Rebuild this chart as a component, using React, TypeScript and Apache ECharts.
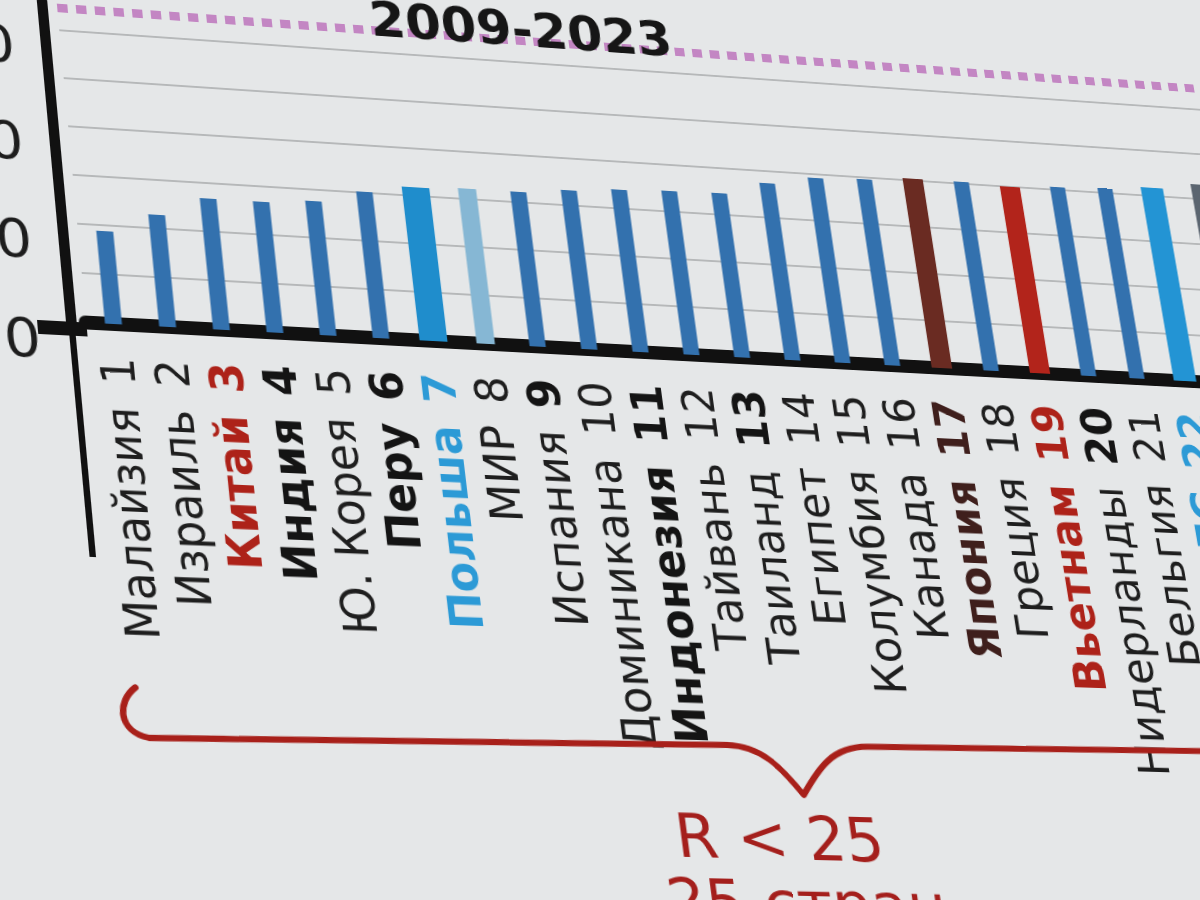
import React, { useEffect, useRef } from 'react';
import * as echarts from 'echarts';

// ---------------- data ----------------
const countries = [
  'Малайзия', 'Израиль', 'Китай', 'Индия', 'Ю. Корея', 'Перу', 'Польша', 'МИР',
  'Испания', 'Доминикана', 'Индонезия', 'Тайвань', 'Таиланд', 'Египет', 'Колумбия',
  'Канада', 'Япония', 'Греция', 'Вьетнам', 'Нидерланды', 'Бельгия', 'ЕС', '',
];
const ranks = [
  '1', '2', '3', '4', '5', '6', '7', '8', '9', '10', '11', '12', '13', '14', '15',
  '16', '17', '18', '19', '20', '21', '22', '',
];
const values = [
  9.4, 11.4, 13.4, 13.4, 13.8, 15.1, 15.9, 16.1, 16.1, 16.6, 17.0, 17.2, 17.3,
  18.7, 19.6, 19.8, 20.2, 20.2, 20.0, 20.3, 20.5, 20.9, 21.6,
];
const yTickLabels = ['0', '10', '20', '30'];
const thresholdValue = 32.4;
const periodLabel = '2009-2023';
const groupLabel = 'R < 25';
const groupCountLabel = '25 стран';
const groupSize = 25;

// highlight groups (by name)
const redNames = ['Китай', 'Вьетнам'];
const blueNames = ['Польша', 'ЕС'];
const brownNames = ['Япония'];
const boldNames = ['Индия', 'Перу', 'Индонезия'];
const boldRankOnly = ['Испания', 'Таиланд', 'Нидерланды'];

// ---------------- layout / style ----------------
const FONT = '"DejaVu Sans", Verdana, sans-serif';
const GL = 150;
const GT = 130;
const GH = 330;
const CAT_W = 51;
const YMAX = 33;
const VB = GT + GH;
const S = GH / YMAX;
const DIV_W = 1500;
const DIV_H = 1080;

const barStyles: Record<string, { color: string; width: number }> = {
  base: { color: '#3371ae', width: 16 },
  poland: { color: '#1f8dcc', width: 27 },
  world: { color: '#86b7d4', width: 18 },
  japan: { color: '#6a2b22', width: 21 },
  vietnam: { color: '#b2241b', width: 21 },
  eu: { color: '#2394d4', width: 24 },
  other: { color: '#5b6570', width: 16 },
};
function barKind(name: string): string {
  if (name === 'Польша') return 'poland';
  if (name === 'МИР') return 'world';
  if (name === 'Япония') return 'japan';
  if (name === 'Вьетнам') return 'vietnam';
  if (name === 'ЕС') return 'eu';
  if (name === '') return 'other';
  return 'base';
}

// ---------------- perspective (photo) ----------------
function solveHomography(src: number[][], dst: number[][]): number[] {
  const A: number[][] = [];
  const b: number[] = [];
  for (let i = 0; i < 4; i++) {
    const [x, y] = src[i];
    const [X, Y] = dst[i];
    A.push([x, y, 1, 0, 0, 0, -x * X, -y * X]);
    b.push(X);
    A.push([0, 0, 0, x, y, 1, -x * Y, -y * Y]);
    b.push(Y);
  }
  const n = 8;
  for (let c = 0; c < n; c++) {
    let p = c;
    for (let r = c + 1; r < n; r++) if (Math.abs(A[r][c]) > Math.abs(A[p][c])) p = r;
    [A[c], A[p]] = [A[p], A[c]];
    [b[c], b[p]] = [b[p], b[c]];
    for (let r = 0; r < n; r++) {
      if (r === c) continue;
      const f = A[r][c] / A[c][c];
      for (let k = c; k < n; k++) A[r][k] -= f * A[c][k];
      b[r] -= f * b[c];
    }
  }
  return b.map((v, i) => v / A[i][i]);
}
const srcPts = [
  [GL + 0.5 * CAT_W, VB],
  [GL + 0.5 * CAT_W, VB - 20 * S],
  [GL + 21.5 * CAT_W, VB],
  [GL + 21.5 * CAT_W, VB - 20 * S],
];
const dstPts = [
  [113.5, 324],
  [95, 128],
  [1185, 381],
  [1153, 196],
];
const h = solveHomography(srcPts, dstPts);
const M = [
  [h[0], h[1], h[2]],
  [h[3], h[4], h[5]],
  [h[6], h[7], 1],
];
function inv3(m: number[][]): number[][] {
  const [a, b, c] = m[0];
  const [d, e, f] = m[1];
  const [g, hh, i] = m[2];
  const A = e * i - f * hh, B = -(d * i - f * g), C = d * hh - e * g;
  const det = a * A + b * B + c * C;
  return [
    [A / det, -(b * i - c * hh) / det, (b * f - c * e) / det],
    [B / det, (a * i - c * g) / det, -(a * f - c * d) / det],
    [C / det, -(a * hh - b * g) / det, (a * e - b * d) / det],
  ];
}
const Minv = inv3(M);
function toFlat(X: number, Y: number): [number, number] {
  const x = Minv[0][0] * X + Minv[0][1] * Y + Minv[0][2];
  const y = Minv[1][0] * X + Minv[1][1] * Y + Minv[1][2];
  const w = Minv[2][0] * X + Minv[2][1] * Y + Minv[2][2];
  return [x / w, y / w];
}
const transformCss = `matrix3d(${h[0]},${h[3]},0,${h[6]},${h[1]},${h[4]},0,${h[7]},0,0,1,0,${h[2]},${h[5]},0,1)`;

// ---------------- labels ----------------
function labelStyles(name: string): [string, string] {
  if (redNames.includes(name)) return ['red', 'red'];
  if (blueNames.includes(name)) return ['blue', 'blue'];
  if (brownNames.includes(name)) return ['brown', 'brown'];
  if (boldNames.includes(name)) return ['bold', 'bold'];
  if (boldRankOnly.includes(name)) return ['reg', 'bold'];
  return ['reg', 'reg'];
}
const LABEL_SIZE = 44;
const rich = {
  reg: { fontFamily: FONT, fontSize: LABEL_SIZE, color: '#1e1e1e' },
  bold: { fontFamily: FONT, fontSize: LABEL_SIZE, color: '#141414', fontWeight: 'bold' },
  red: { fontFamily: FONT, fontSize: LABEL_SIZE, color: '#ad2219', fontWeight: 'bold' },
  blue: { fontFamily: FONT, fontSize: LABEL_SIZE, color: '#2c9ad6', fontWeight: 'bold' },
  brown: { fontFamily: FONT, fontSize: LABEL_SIZE, color: '#3f1f1c', fontWeight: 'bold' },
  gap: { fontFamily: FONT, fontSize: LABEL_SIZE, width: 22 },
};

export default function App() {
  const ref = useRef<HTMLDivElement>(null);

  useEffect(() => {
    const el = ref.current;
    if (!el) return;
    const chart = echarts.init(el, undefined, { renderer: 'svg' });

    const option: any = {
      animation: false,
      backgroundColor: 'transparent',
      grid: { left: GL, top: GT, width: countries.length * CAT_W, height: GH },
      xAxis: {
        type: 'category',
        data: countries,
        offset: 7,
        axisLine: { show: true, lineStyle: { color: '#111111', width: 14 } },
        axisTick: { show: false },
        splitLine: { show: false },
        axisLabel: {
          interval: 0,
          rotate: 90,
          margin: 26,
          formatter: (_v: string, idx: number) => {
            const name = countries[idx];
            if (!name) return '';
            const [ns, rs] = labelStyles(name);
            return `{${ns}|${name}}{gap|\u00a0}{${rs}|${ranks[idx]}}`;
          },
          rich,
        },
      },
      yAxis: {
        type: 'value',
        min: 0,
        max: YMAX,
        interval: 5,
        offset: 14,
        axisLine: { show: true, lineStyle: { color: '#111111', width: 10 } },
        axisTick: { show: false },
        axisLabel: {
          formatter: (v: number) => (yTickLabels.includes(String(v)) ? String(v) : ''),
          fontSize: 54,
          fontFamily: FONT,
          color: '#1d1d1d',
          margin: 30,
          verticalAlign: 'top',
          lineHeight: 38,
        },
        splitLine: { show: true, showMaxLine: false, lineStyle: { color: '#a6a8aa', width: 1.5 } },
      },
      series: [
        {
          type: 'pictorialBar',
          symbol: 'rect',
          symbolPosition: 'start',
          symbolClip: false,
          z: 3,
          data: values.map((v, i) => {
            const st = barStyles[barKind(countries[i])];
            return { value: v, symbolSize: [st.width, '100%'], itemStyle: { color: st.color } };
          }),
          markLine: {
            silent: true,
            symbol: 'none',
            label: { show: false },
            lineStyle: { color: '#c386c3', width: 9, type: [10, 8], cap: 'butt' },
            data: [{ yAxis: thresholdValue }],
          },
        },
      ],
    };
    chart.setOption(option);

    // annotations
    const c0 = chart.convertToPixel({ xAxisIndex: 0 }, 0) as unknown as number;
    const c1 = chart.convertToPixel({ xAxisIndex: 0 }, 1) as unknown as number;
    const band = c1 - c0;
    const x0 = c0 - band / 2;
    const x1 = x0 + band * groupSize;
    const xt = (x0 + x1) / 2;
    const y0 = chart.convertToPixel({ yAxisIndex: 0 }, 0) as unknown as number;
    const axisX = GL - 14;
    const byT = toFlat(800, 746)[1];
    const k = -0.018;
    const byAt = (x: number) => byT + k * (x - xt);
    const bL = byAt(x0);
    const bR = byAt(x1);
    const d =
      `M ${x0 + 14} ${bL - 48} C ${x0 - 4} ${bL - 34} ${x0 - 6} ${bL - 6} ${x0 + 22} ${byAt(x0 + 22)} ` +
      `L ${xt - 70} ${byAt(xt - 70)} C ${xt - 35} ${byAt(xt - 35)} ${xt - 18} ${byT + 22} ${xt} ${byT + 48} ` +
      `C ${xt + 18} ${byT + 22} ${xt + 35} ${byAt(xt + 35)} ${xt + 70} ${byAt(xt + 70)} ` +
      `L ${x1 - 22} ${byAt(x1 - 22)} C ${x1 + 6} ${bR - 6} ${x1 + 4} ${bR - 34} ${x1 - 14} ${bR - 48}`;
    echarts.graphic.registerShape('braceShape', (echarts.graphic as any).extendPath(d, {}));

    const tPos = toFlat(522, 30);
    const rPos = toFlat(780, 838);
    const cPos = toFlat(808, 904);

    chart.setOption({
      graphic: [
        {
          type: 'line',
          shape: { x1: axisX - 32, y1: y0 + 7, x2: GL, y2: y0 + 7 },
          style: { stroke: '#111111', lineWidth: 14 },
          z: 5,
        },
        {
          type: 'line',
          shape: { x1: axisX, y1: y0 + 10, x2: axisX, y2: y0 + 232 },
          style: { stroke: '#111111', lineWidth: 6 },
          z: 5,
        },
        {
          type: 'braceShape',
          shape: {},
          style: { stroke: '#a8201a', fill: 'none', lineWidth: 6, lineJoin: 'round', lineCap: 'round' },
          z: 6,
        },
        {
          type: 'text',
          x: tPos[0],
          y: tPos[1],
          style: {
            text: periodLabel,
            fontFamily: FONT,
            fontSize: 51,
            fontWeight: 'bold',
            fill: '#161616',
            textAlign: 'center',
            textVerticalAlign: 'middle',
          },
          z: 6,
        },
        {
          type: 'text',
          x: rPos[0],
          y: rPos[1],
          style: {
            text: groupLabel,
            fontFamily: FONT,
            fontSize: 59,
            fill: '#a41f1c',
            textAlign: 'center',
            textVerticalAlign: 'middle',
          },
          z: 6,
        },
        {
          type: 'text',
          x: cPos[0],
          y: cPos[1],
          style: {
            text: groupCountLabel,
            fontFamily: FONT,
            fontSize: 59,
            fill: '#a41f1c',
            textAlign: 'center',
            textVerticalAlign: 'middle',
          },
          z: 6,
        },
      ],
    });

    return () => {
      chart.dispose();
    };
  }, []);

  return (
    <div
      style={{
        position: 'fixed',
        left: 0,
        top: 0,
        width: 1200,
        height: 900,
        overflow: 'hidden',
        background: '#e5e7e8',
      }}
    >
      <div
        ref={ref}
        style={{
          position: 'absolute',
          left: 0,
          top: 0,
          width: DIV_W,
          height: DIV_H,
          transformOrigin: '0 0',
          transform: transformCss,
        }}
      />
    </div>
  );
}
